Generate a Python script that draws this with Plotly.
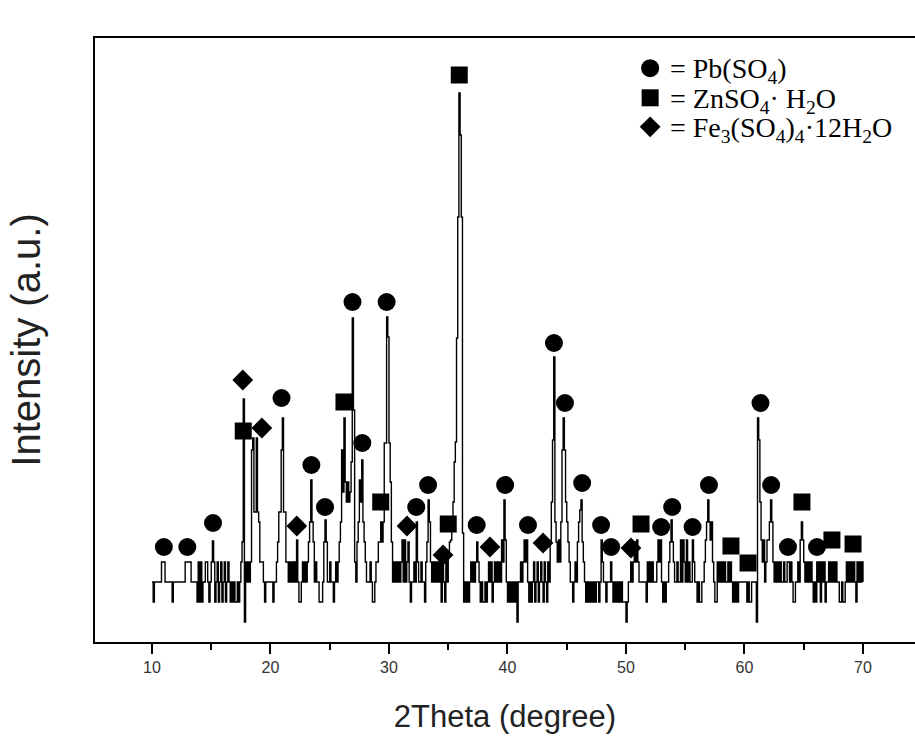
import plotly.graph_objects as go

# ---------------- data ----------------
theta_start = 10.0   # first 2Theta value of the scan (degree)
theta_step = 0.1     # scan step (degree)

# intensity (a.u.), one row per degree: 10.0 ... 10.9, 11.0 ... 11.9, ...
intensity = [
    60, 40, 60, 60, 60, 60, 60, 60, 80, 80,          # 10
    80, 60, 60, 60, 60, 60, 60, 40, 60, 60,          # 11
    60, 60, 60, 60, 60, 60, 60, 60, 80, 80,          # 12
    80, 80, 80, 60, 60, 60, 60, 60, 40, 80,          # 13
    40, 80, 40, 60, 60, 80, 80, 60, 40, 60,          # 14
    80, 101, 80, 40, 60, 80, 40, 60, 80, 40,         # 15
    60, 80, 40, 60, 80, 60, 40, 60, 40, 60,          # 16
    40, 40, 60, 40, 60, 80, 100, 243, 20, 80,        # 17
    60, 80, 60, 80, 192, 204, 130, 130, 204, 130,    # 18
    120, 80, 80, 80, 60, 40, 60, 60, 60, 60,         # 19
    60, 60, 40, 60, 60, 80, 100, 130, 130, 192,      # 20
    224, 130, 130, 80, 80, 60, 80, 60, 80, 60,       # 21
    80, 60, 102, 60, 40, 40, 60, 80, 60, 80,         # 22
    60, 80, 100, 120, 162, 120, 100, 60, 80, 60,     # 23
    60, 40, 40, 40, 60, 100, 122, 100, 60, 60,       # 24
    80, 60, 60, 40, 60, 80, 60, 80, 100, 120,        # 25
    192, 150, 224, 160, 140, 160, 140, 150, 180, 324,  # 26
    232, 80, 60, 100, 120, 162, 140, 182, 120, 100,  # 27
    80, 60, 60, 60, 80, 60, 40, 40, 60, 80,          # 28
    80, 100, 100, 120, 100, 120, 199, 199, 325, 305,  # 29
    199, 160, 100, 60, 80, 60, 80, 60, 80, 60,       # 30
    80, 102, 60, 102, 60, 80, 100, 60, 40, 60,       # 31
    60, 80, 60, 120, 80, 60, 60, 80, 60, 60,         # 32
    40, 80, 100, 142, 120, 80, 60, 80, 60, 80,       # 33
    60, 80, 60, 80, 40, 80, 60, 40, 80, 60,          # 34
    89, 100, 102, 120, 140, 180, 200, 304, 425, 549,  # 35
    507, 425, 109, 40, 60, 40, 60, 40, 60, 80,       # 36
    60, 80, 60, 80, 100, 80, 60, 40, 60, 40,         # 37
    40, 60, 40, 60, 80, 60, 80, 40, 60, 80,          # 38
    60, 80, 60, 80, 60, 102, 80, 142, 102, 60,       # 39
    40, 60, 40, 60, 40, 60, 40, 60, 20, 60,          # 40
    60, 80, 60, 80, 102, 80, 102, 60, 40, 60,        # 41
    40, 60, 80, 40, 60, 80, 40, 60, 80, 60,          # 42
    40, 80, 60, 40, 80, 60, 100, 140, 202, 285,      # 43
    120, 100, 80, 102, 80, 120, 192, 224, 192, 140,  # 44
    120, 100, 80, 60, 60, 40, 60, 80, 60, 100,       # 45
    120, 132, 142, 100, 80, 60, 40, 60, 40, 60,      # 46
    40, 60, 40, 60, 40, 60, 60, 40, 60, 102,         # 47
    80, 60, 60, 40, 60, 60, 60, 80, 60, 40,          # 48
    60, 40, 60, 40, 60, 40, 60, 40, 40, 40,          # 49
    20, 40, 60, 60, 80, 60, 80, 100, 80, 102,        # 50
    80, 60, 60, 60, 60, 60, 60, 40, 80, 60,          # 51
    80, 60, 80, 60, 60, 60, 80, 102, 80, 102,        # 52
    60, 40, 60, 40, 60, 60, 80, 100, 122, 100,       # 53
    80, 60, 60, 80, 60, 60, 102, 60, 102, 80,        # 54
    60, 102, 60, 80, 60, 60, 102, 80, 60, 60,        # 55
    40, 60, 40, 40, 60, 60, 80, 102, 120, 142,       # 56
    120, 102, 120, 80, 60, 40, 40, 80, 60, 80,       # 57
    60, 80, 60, 80, 60, 60, 80, 60, 80, 60,          # 58
    40, 60, 40, 60, 40, 60, 60, 60, 60, 60,          # 59
    60, 60, 40, 60, 40, 40, 60, 60, 60, 60,          # 60
    20, 224, 202, 140, 102, 80, 102, 60, 80, 102,    # 61
    102, 120, 142, 120, 80, 60, 80, 60, 80, 60,      # 62
    80, 60, 60, 80, 60, 60, 80, 80, 60, 80,          # 63
    60, 40, 40, 60, 60, 80, 60, 102, 120, 102,       # 64
    80, 60, 80, 60, 80, 60, 80, 60, 40, 60,          # 65
    40, 80, 60, 80, 40, 80, 60, 80, 40, 60,          # 66
    60, 80, 60, 80, 60, 80, 60, 80, 60, 60,          # 67
    40, 40, 60, 40, 40, 60, 80, 60, 80, 60,          # 68
    80, 60, 80, 60, 40, 80, 60, 80, 60, 80,          # 69
    60,                                              # 70
]

# phase markers (2Theta, intensity position of the symbol)
pbso4_theta = [11.0, 12.98, 15.15, 20.93, 23.45, 24.6, 26.92, 27.75, 29.8, 32.3,
               33.3, 37.4, 39.8, 41.73, 43.92, 44.85, 46.3, 47.9, 48.75, 52.97,
               53.9, 55.62, 57.0, 61.35, 62.25, 63.67, 66.12]
pbso4_int = [95, 95, 119, 244, 177, 135, 340, 199, 340, 135,
             157, 117, 157, 117, 299, 239, 159, 117, 95, 115,
             135, 115, 157, 239, 157, 95, 95]

znso4_theta = [17.7, 26.2, 29.3, 35.0, 35.93, 51.27, 58.86, 60.3, 64.85, 67.38, 69.16]
znso4_int = [211, 240, 140, 118, 567, 118, 96, 79, 140, 102, 98]

fe_theta = [17.66, 19.27, 22.22, 31.52, 34.56, 38.52, 43.0, 50.42]
fe_int = [262, 214, 116, 116, 87, 95, 99, 94]

# legend labels
phase_labels = [
    "= Pb(SO<sub>4</sub>)",
    "= ZnSO<sub>4</sub>· H<sub>2</sub>O",
    "= Fe<sub>3</sub>(SO<sub>4</sub>)<sub>4</sub>·12H<sub>2</sub>O",
]

# ---------------- figure ----------------
two_theta = [round(theta_start + i * theta_step, 1) for i in range(len(intensity))]

symbols = ["circle", "square", "diamond"]
sizes = [18, 17, 16]

fig = go.Figure()
fig.add_trace(go.Scatter(
    x=two_theta, y=intensity, mode="lines",
    line=dict(color="black", width=1.4, shape="hv"),
    showlegend=False, hoverinfo="skip"))

for xs, ys, sym, sz, lab in zip([pbso4_theta, znso4_theta, fe_theta],
                                [pbso4_int, znso4_int, fe_int],
                                symbols, sizes, phase_labels):
    fig.add_trace(go.Scatter(
        x=xs, y=ys, mode="markers",
        marker=dict(symbol=sym, size=sz, color="black", opacity=1,
                    line=dict(width=0, color="black")),
        name=lab, showlegend=False))

# legend block (key symbols on an overlay axis in plot-fraction units + text)
legend_key_x = 0.677
legend_text_x = 0.699
legend_rows_y = [0.950, 0.901, 0.853]
for sym, sz, yy in zip(symbols, sizes, legend_rows_y):
    fig.add_trace(go.Scatter(
        x=[legend_key_x], y=[yy], xaxis="x2", yaxis="y2",
        mode="markers",
        marker=dict(symbol=sym, size=sz, color="#000000", opacity=1,
                    line=dict(width=0, color="#000000")),
        showlegend=False, hoverinfo="skip"))
for lab, yy in zip(phase_labels, legend_rows_y):
    fig.add_annotation(
        x=legend_text_x, y=yy - 0.004, xref="paper", yref="paper",
        xanchor="left", yanchor="middle", showarrow=False, text=lab,
        font=dict(family="Liberation Serif, Times New Roman, serif", size=28, color="black"))

fig.update_layout(
    width=915, height=749,
    margin=dict(l=95, r=0, t=38, b=107),
    paper_bgcolor="white", plot_bgcolor="white",
    font=dict(family="Liberation Sans, Arial, sans-serif", color="#222"),
    showlegend=False,
    xaxis=dict(
        range=[5.19, 74.39],
        showline=True, linecolor="black", linewidth=2, mirror=True,
        showgrid=False, zeroline=False,
        ticks="outside", ticklen=10, tickwidth=2, tickcolor="black",
        tickvals=[10, 20, 30, 40, 50, 60, 70],
        tickfont=dict(size=16, color="#333"),
        minor=dict(tickvals=[15, 25, 35, 45, 55, 65], ticks="outside",
                   ticklen=6, tickwidth=2, tickcolor="black"),
        title=dict(text="2Theta (degree)", font=dict(size=31, color="#222"), standoff=30),
    ),
    yaxis=dict(
        range=[0, 604],
        showline=True, linecolor="black", linewidth=2, mirror=False,
        showgrid=False, zeroline=False, showticklabels=False, ticks="",
        title=dict(text="Intensity (a.u.)", font=dict(size=40, color="#222"), standoff=40),
    ),
    xaxis2=dict(overlaying="x", range=[0, 1], visible=False),
    yaxis2=dict(overlaying="y", range=[0, 1], visible=False),
)

fig.write_html("out.html", post_script="document.body.style.margin='0';",
               config={"displayModeBar": False})
